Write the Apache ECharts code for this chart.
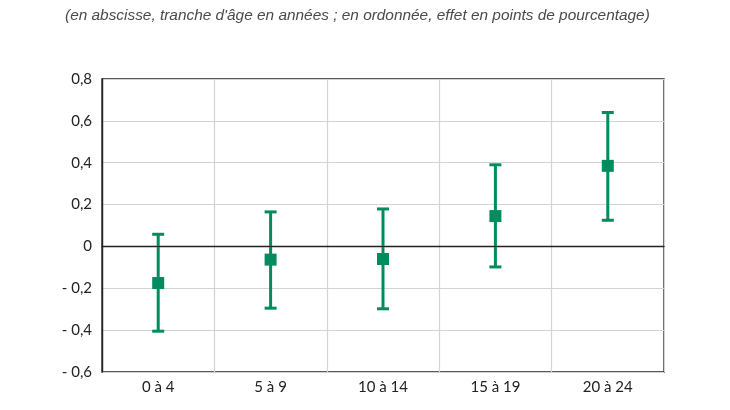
<!DOCTYPE html>
<html><head><meta charset="utf-8">
<script src="https://cdn.jsdelivr.net/npm/echarts@6/dist/echarts.min.js"></script>
<style>html,body{margin:0;padding:0;background:#fff}#c{width:730px;height:410px}</style>
</head><body><div id="c"></div>
<script>
var categories = ['0 à 4', '5 à 9', '10 à 14', '15 à 19', '20 à 24'];
var estimates = [-0.175, -0.063, -0.06, 0.145, 0.385];
var lowerBounds = [-0.405, -0.295, -0.298, -0.098, 0.125];
var upperBounds = [0.058, 0.165, 0.179, 0.39, 0.64];
var yMin = -0.6, yMax = 0.8, yStep = 0.2;
var subtitle = "(en abscisse, tranche d'âge en années ; en ordonnée, effet en points de pourcentage)";

var green = '#008c5f';
var errData = categories.map(function (c, i) { return [i, lowerBounds[i], upperBounds[i]]; });
var chart = echarts.init(document.getElementById('c'));
chart.setOption({
  animation: false,
  title: {
    text: subtitle, left: 60, top: 3,
    textStyle: { fontFamily: "'Liberation Sans', Arial, sans-serif", fontStyle: 'italic', fontWeight: 'normal', fontSize: 15.4, color: '#4a4a4a' }
  },
  grid: { left: 102, right: 66, top: 79, bottom: 38, show: true, borderColor: '#222', borderWidth: 1.4, backgroundColor: 'transparent' },
  xAxis: {
    type: 'category', data: categories, boundaryGap: true,
    axisLine: { show: true, lineStyle: { color: '#222', width: 1.4 } },
    axisTick: { show: false },
    splitLine: { show: true, interval: 0, lineStyle: { color: '#d3d3d3', width: 1.2 } },
    axisLabel: { color: '#222', fontSize: 15, fontFamily: 'Lato, sans-serif', margin: 8 }
  },
  yAxis: {
    type: 'value', min: yMin, max: yMax, interval: yStep,
    axisLine: { show: true, lineStyle: { color: '#222', width: 1.4 } },
    axisTick: { show: false },
    splitLine: { show: true, lineStyle: { color: '#d3d3d3', width: 1.2 } },
    axisLabel: {
      color: '#222', fontSize: 15, fontFamily: 'Lato, sans-serif', margin: 10,
      formatter: function (v) {
        var r = Math.round(v * 10) / 10;
        if (r === 0) return '0';
        var s = Math.abs(r).toFixed(1).replace('.', ',');
        return r < 0 ? '- ' + s : s;
      }
    }
  },
  series: [
    {
      type: 'custom', data: errData, z: 3,
      renderItem: function (params, api) {
        var x = api.value(0);
        var lo = api.coord([x, api.value(1)]);
        var hi = api.coord([x, api.value(2)]);
        var hw = 6;
        var st = { stroke: green, lineWidth: 3 };
        return { type: 'group', children: [
          { type: 'line', shape: { x1: lo[0], y1: lo[1], x2: hi[0], y2: hi[1] }, style: st },
          { type: 'line', shape: { x1: lo[0] - hw, y1: lo[1], x2: lo[0] + hw, y2: lo[1] }, style: st },
          { type: 'line', shape: { x1: hi[0] - hw, y1: hi[1], x2: hi[0] + hw, y2: hi[1] }, style: st }
        ] };
      }
    },
    {
      type: 'scatter', data: estimates, symbol: 'rect', symbolSize: 12, z: 4,
      itemStyle: { color: green, opacity: 1 },
      markLine: {
        silent: true, symbol: 'none', label: { show: false },
        lineStyle: { color: '#222', width: 1.2, type: 'solid' },
        data: [{ yAxis: 0 }]
      }
    }
  ]
});
</script></body></html>
